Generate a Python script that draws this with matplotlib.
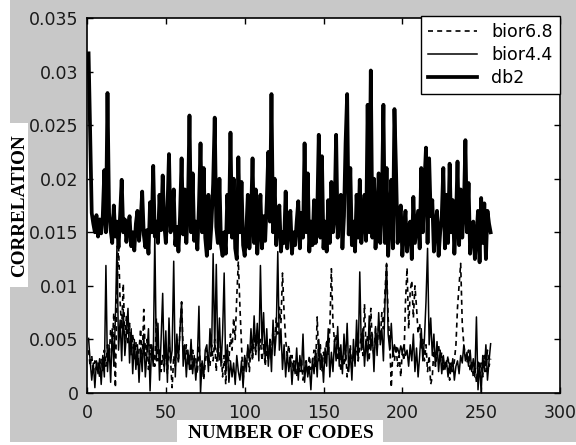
import matplotlib
matplotlib.use("Agg")
import matplotlib.pyplot as plt
from matplotlib.patches import Rectangle
import numpy as np

# ---------------- data ----------------
db2 = [
    0.0317, 0.0245, 0.0168, 0.0158, 0.0150, 0.0166, 0.0146, 0.0162, 0.0149, 0.0165, 0.0208, 0.0150, 0.0280, 0.0168, 0.0152, 0.0140,
    0.0175, 0.0146, 0.0160, 0.0136, 0.0166, 0.0199, 0.0150, 0.0162, 0.0141, 0.0155, 0.0165, 0.0137, 0.0150, 0.0133, 0.0158, 0.0170,
    0.0142, 0.0160, 0.0188, 0.0148, 0.0136, 0.0152, 0.0130, 0.0178, 0.0150, 0.0212, 0.0146, 0.0160, 0.0140, 0.0185, 0.0152, 0.0203,
    0.0158, 0.0140, 0.0170, 0.0223, 0.0150, 0.0165, 0.0190, 0.0138, 0.0155, 0.0132, 0.0165, 0.0219, 0.0148, 0.0190, 0.0140, 0.0172,
    0.0259, 0.0150, 0.0205, 0.0142, 0.0160, 0.0134, 0.0175, 0.0233, 0.0150, 0.0210, 0.0145, 0.0128, 0.0185, 0.0135, 0.0160, 0.0195,
    0.0257, 0.0155, 0.0140, 0.0200, 0.0138, 0.0128, 0.0150, 0.0130, 0.0185, 0.0150, 0.0243, 0.0145, 0.0200, 0.0135, 0.0125, 0.0220,
    0.0150, 0.0197, 0.0138, 0.0128, 0.0150, 0.0185, 0.0135, 0.0160, 0.0219, 0.0140, 0.0190, 0.0130, 0.0155, 0.0185, 0.0135, 0.0165,
    0.0142, 0.0178, 0.0225, 0.0160, 0.0279, 0.0150, 0.0200, 0.0138, 0.0160, 0.0175, 0.0132, 0.0150, 0.0140, 0.0188, 0.0135, 0.0158,
    0.0170, 0.0130, 0.0150, 0.0138, 0.0160, 0.0179, 0.0135, 0.0168, 0.0145, 0.0233, 0.0150, 0.0205, 0.0132, 0.0160, 0.0138, 0.0180,
    0.0140, 0.0165, 0.0241, 0.0145, 0.0221, 0.0135, 0.0160, 0.0132, 0.0180, 0.0140, 0.0197, 0.0150, 0.0165, 0.0241, 0.0145, 0.0170,
    0.0185, 0.0135, 0.0165, 0.0233, 0.0279, 0.0148, 0.0210, 0.0138, 0.0160, 0.0132, 0.0185, 0.0145, 0.0199, 0.0140, 0.0160, 0.0185,
    0.0142, 0.0269, 0.0150, 0.0301, 0.0145, 0.0200, 0.0135, 0.0165, 0.0205, 0.0140, 0.0175, 0.0269, 0.0140, 0.0210, 0.0128, 0.0160,
    0.0199, 0.0135, 0.0265, 0.0208, 0.0140, 0.0160, 0.0175, 0.0128, 0.0150, 0.0170, 0.0132, 0.0155, 0.0160, 0.0125, 0.0183, 0.0140,
    0.0155, 0.0170, 0.0135, 0.0210, 0.0150, 0.0195, 0.0229, 0.0140, 0.0219, 0.0165, 0.0180, 0.0132, 0.0158, 0.0170, 0.0128, 0.0150,
    0.0165, 0.0210, 0.0135, 0.0185, 0.0140, 0.0214, 0.0150, 0.0180, 0.0130, 0.0160, 0.0216, 0.0138, 0.0190, 0.0145, 0.0170, 0.0236,
    0.0150, 0.0196, 0.0130, 0.0148, 0.0160, 0.0125, 0.0145, 0.0170, 0.0122, 0.0182, 0.0140, 0.0177, 0.0125, 0.0170, 0.0158, 0.0150,
]

bior44 = [
    0.0051, 0.0030, 0.0012, 0.0028, 0.0005, 0.0030, 0.0018, 0.0032, 0.0008, 0.0035, 0.0015, 0.0119, 0.0020, 0.0045, 0.0010, 0.0060,
    0.0025, 0.0070, 0.0137, 0.0040, 0.0068, 0.0030, 0.0078, 0.0035, 0.0055, 0.0079, 0.0028, 0.0060, 0.0018, 0.0050, 0.0022, 0.0045,
    0.0010, 0.0042, 0.0020, 0.0055, 0.0015, 0.0038, 0.0060, 0.0002, 0.0045, 0.0025, 0.0148, 0.0030, 0.0065, 0.0012, 0.0050, 0.0093,
    0.0020, 0.0058, 0.0010, 0.0070, 0.0028, 0.0040, 0.0123, 0.0015, 0.0055, 0.0030, 0.0060, 0.0085, 0.0025, 0.0045, 0.0015, 0.0040,
    0.0022, 0.0050, 0.0018, 0.0035, 0.0012, 0.0032, 0.0081, 0.0000, 0.0030, 0.0015, 0.0040, 0.0045, 0.0020, 0.0060, 0.0035, 0.0130,
    0.0040, 0.0120, 0.0030, 0.0070, 0.0025, 0.0055, 0.0112, 0.0018, 0.0045, 0.0010, 0.0030, 0.0015, 0.0028, 0.0008, 0.0035, 0.0020,
    0.0012, 0.0030, 0.0005, 0.0035, 0.0020, 0.0045, 0.0030, 0.0060, 0.0035, 0.0072, 0.0040, 0.0065, 0.0030, 0.0119, 0.0045, 0.0075,
    0.0030, 0.0060, 0.0025, 0.0050, 0.0020, 0.0068, 0.0035, 0.0055, 0.0132, 0.0040, 0.0060, 0.0022, 0.0045, 0.0015, 0.0038, 0.0020,
    0.0035, 0.0008, 0.0030, 0.0018, 0.0042, 0.0012, 0.0035, 0.0020, 0.0055, 0.0010, 0.0030, 0.0015, 0.0025, 0.0003, 0.0032, 0.0018,
    0.0040, 0.0015, 0.0050, 0.0022, 0.0035, 0.0010, 0.0042, 0.0025, 0.0060, 0.0015, 0.0038, 0.0020, 0.0050, 0.0030, 0.0062, 0.0025,
    0.0045, 0.0018, 0.0055, 0.0030, 0.0065, 0.0020, 0.0040, 0.0012, 0.0050, 0.0025, 0.0068, 0.0030, 0.0113, 0.0040, 0.0060, 0.0025,
    0.0050, 0.0030, 0.0072, 0.0040, 0.0055, 0.0020, 0.0062, 0.0035, 0.0075, 0.0045, 0.0060, 0.0030, 0.0085, 0.0121, 0.0055, 0.0040,
    0.0065, 0.0035, 0.0045, 0.0038, 0.0042, 0.0036, 0.0044, 0.0038, 0.0045, 0.0035, 0.0040, 0.0025, 0.0045, 0.0030, 0.0055, 0.0020,
    0.0042, 0.0015, 0.0035, 0.0060, 0.0030, 0.0050, 0.0085, 0.0135, 0.0045, 0.0070, 0.0035, 0.0055, 0.0025, 0.0048, 0.0020, 0.0040,
    0.0018, 0.0035, 0.0022, 0.0030, 0.0015, 0.0028, 0.0020, 0.0032, 0.0012, 0.0025, 0.0030, 0.0018, 0.0035, 0.0028, 0.0045, 0.0030,
    0.0038, 0.0025, 0.0040, 0.0020, 0.0032, 0.0015, 0.0071, 0.0003, 0.0028, 0.0000, 0.0035, 0.0020, 0.0045, 0.0012, 0.0030, 0.0046,
]

bior68 = [
    0.0040, 0.0025, 0.0035, 0.0018, 0.0030, 0.0022, 0.0028, 0.0015, 0.0032, 0.0020, 0.0040, 0.0025, 0.0045, 0.0030, 0.0060, 0.0042,
    0.0075, 0.0005, 0.0095, 0.0140, 0.0085, 0.0060, 0.0102, 0.0050, 0.0072, 0.0045, 0.0065, 0.0035, 0.0055, 0.0030, 0.0048, 0.0025,
    0.0040, 0.0060, 0.0028, 0.0078, 0.0035, 0.0050, 0.0022, 0.0045, 0.0030, 0.0038, 0.0025, 0.0070, 0.0030, 0.0042, 0.0020, 0.0035,
    0.0025, 0.0040, 0.0018, 0.0045, 0.0030, 0.0005, 0.0035, 0.0025, 0.0050, 0.0028, 0.0060, 0.0085, 0.0040, 0.0030, 0.0045, 0.0025,
    0.0035, 0.0020, 0.0040, 0.0028, 0.0032, 0.0018, 0.0045, 0.0025, 0.0030, 0.0012, 0.0028, 0.0040, 0.0035, 0.0025, 0.0045, 0.0030,
    0.0050, 0.0020, 0.0055, 0.0030, 0.0040, 0.0015, 0.0035, 0.0008, 0.0040, 0.0030, 0.0055, 0.0040, 0.0070, 0.0050, 0.0090, 0.0123,
    0.0080, 0.0045, 0.0010, 0.0035, 0.0025, 0.0040, 0.0020, 0.0045, 0.0030, 0.0055, 0.0035, 0.0060, 0.0040, 0.0050, 0.0030, 0.0045,
    0.0025, 0.0040, 0.0030, 0.0050, 0.0035, 0.0060, 0.0045, 0.0070, 0.0055, 0.0080, 0.0065, 0.0112, 0.0075, 0.0050, 0.0035, 0.0045,
    0.0025, 0.0035, 0.0020, 0.0030, 0.0015, 0.0028, 0.0020, 0.0032, 0.0012, 0.0025, 0.0030, 0.0018, 0.0035, 0.0022, 0.0028, 0.0040,
    0.0025, 0.0071, 0.0030, 0.0045, 0.0020, 0.0038, 0.0028, 0.0050, 0.0035, 0.0060, 0.0116, 0.0065, 0.0048, 0.0055, 0.0030, 0.0042,
    0.0020, 0.0035, 0.0025, 0.0040, 0.0015, 0.0030, 0.0045, 0.0020, 0.0038, 0.0028, 0.0050, 0.0030, 0.0042, 0.0055, 0.0035, 0.0083,
    0.0040, 0.0055, 0.0030, 0.0079, 0.0045, 0.0035, 0.0060, 0.0040, 0.0065, 0.0050, 0.0075, 0.0060, 0.0095, 0.0120, 0.0070, 0.0050,
    0.0005, 0.0040, 0.0030, 0.0045, 0.0025, 0.0035, 0.0015, 0.0040, 0.0030, 0.0085, 0.0117, 0.0060, 0.0095, 0.0105, 0.0070, 0.0100,
    0.0080, 0.0055, 0.0065, 0.0040, 0.0050, 0.0030, 0.0045, 0.0020, 0.0035, 0.0008, 0.0015, 0.0040, 0.0025, 0.0035, 0.0045, 0.0030,
    0.0038, 0.0020, 0.0030, 0.0025, 0.0035, 0.0012, 0.0028, 0.0020, 0.0030, 0.0045, 0.0080, 0.0100, 0.0121, 0.0065, 0.0045, 0.0035,
    0.0028, 0.0040, 0.0020, 0.0030, 0.0015, 0.0025, 0.0010, 0.0030, 0.0018, 0.0028, 0.0015, 0.0035, 0.0020, 0.0040, 0.0025, 0.0032,
]

series_labels = ["bior6.8", "bior4.4", "db2"]
x_ticks = [0, 50, 100, 150, 200, 250, 300]
y_ticks = [0, 0.005, 0.01, 0.015, 0.02, 0.025, 0.03, 0.035]
y_tick_labels = ["0", "0.005", "0.01", "0.015", "0.02", "0.025", "0.03", "0.035"]
x_label = "NUMBER OF CODES"
y_label = "CORRELATION"

# ---------------- figure ----------------
W, H = 576, 445
fig = plt.figure(figsize=(W / 100, H / 100), dpi=100)
fig.patch.set_facecolor("#c8c8c8")

def px_rect(x0, y0, x1, y1, color="white"):
    # pixel coords measured from the top-left corner
    fig.patches.append(Rectangle((x0 / W, 1 - y1 / H), (x1 - x0) / W, (y1 - y0) / H,
                                 transform=fig.transFigure, facecolor=color,
                                 edgecolor="none", zorder=-5))

px_rect(0, 0, 10, H)          # white strip at left
px_rect(0, 442, W, H)         # white strip at bottom
px_rect(10, 123, 28, 287)     # y label box
px_rect(177, 420, 383, H)     # x label box

ax = fig.add_axes([87 / W, 1 - 393 / H, 473 / W, 375 / H])
ax.set_facecolor("white")

n = np.arange(1, len(db2) + 1)
ax.plot(n, bior68, color="black", lw=1.2, ls=(0, (3, 2.5)), label=series_labels[0])
ax.plot(n, bior44, color="black", lw=1.1, ls="-", label=series_labels[1])
ax.plot(n, db2, color="black", lw=2.7, ls="-", label=series_labels[2])

ax.set_xlim(0, 300)
ax.set_ylim(0, 0.035)
ax.set_xticks(x_ticks)
ax.set_xticklabels([str(t) for t in x_ticks])
ax.set_yticks(y_ticks)
ax.set_yticklabels(y_tick_labels)

for lab in ax.get_xticklabels() + ax.get_yticklabels():
    lab.set_fontfamily("DejaVu Sans")
    lab.set_fontsize(12.5)
    lab.set_color("#1a1a1a")

ax.tick_params(direction="in", length=4, width=1, top=True, right=True,
               colors="black", labelcolor="#1a1a1a")
ax.tick_params(axis="x", pad=8)
ax.tick_params(axis="y", pad=6)
for s in ax.spines.values():
    s.set_linewidth(1.2)

leg = ax.legend(loc="upper right", bbox_to_anchor=(1.0, 1.005), borderaxespad=0,
                prop=dict(family="DejaVu Sans", size=12.5), frameon=True,
                fancybox=False, framealpha=1, edgecolor="black",
                handlelength=2.8, handletextpad=0.85, labelspacing=0.28,
                borderpad=0.4)
leg.get_frame().set_linewidth(1.0)

fig.text(281 / W, 1 - 434 / H, x_label, ha="center", va="center",
         family="Liberation Serif", weight="bold", size=13.8, color="black")
fig.text(19.5 / W, 1 - 206 / H, y_label, ha="center", va="center", rotation=90,
         family="Liberation Serif", weight="bold", size=13.8, color="black")

fig.savefig("out.png", dpi=100, facecolor=fig.get_facecolor())
